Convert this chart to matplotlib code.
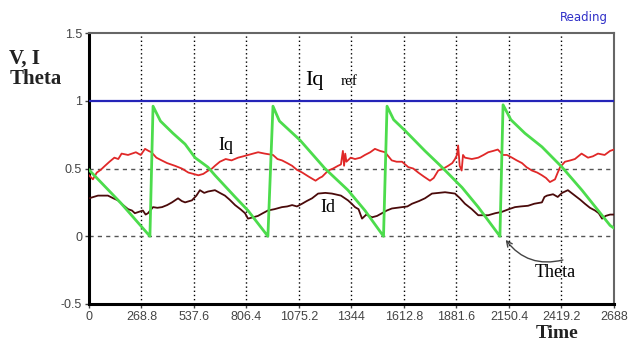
import numpy as np
import matplotlib
matplotlib.use("Agg")
import matplotlib.pyplot as plt

# Iq (red)
iq_t = [0, 20, 40, 60, 82, 105, 130, 150, 167, 200, 240, 265, 287, 305, 320, 345, 372, 400, 440,
        475, 509, 535, 560, 585, 611, 630, 645, 670, 700, 730, 763, 790, 815, 840, 866, 900, 942,
        965, 988, 1015, 1040, 1065, 1092, 1125, 1160, 1180, 1194, 1225, 1250, 1275, 1290, 1300,
        1306, 1312, 1318, 1340, 1362, 1390, 1413, 1440, 1464, 1490, 1516, 1550, 1575, 1603, 1635,
        1660, 1686, 1715, 1746, 1765, 1788, 1815, 1839, 1860, 1874, 1884, 1890, 1898, 1908, 1915,
        1925, 1960, 1993, 2020, 2044, 2070, 2093, 2120, 2140, 2166, 2190, 2217, 2240, 2268, 2295,
        2319, 2340, 2360, 2386, 2400, 2412, 2437, 2465, 2488, 2505, 2522, 2555, 2580, 2606, 2640,
        2668, 2688]
iq_v = [0.45, 0.42, 0.47, 0.49, 0.52, 0.55, 0.58, 0.57, 0.61, 0.60, 0.62, 0.60, 0.645, 0.63, 0.62,
        0.58, 0.56, 0.54, 0.52, 0.50, 0.47, 0.46, 0.45, 0.46, 0.485, 0.50, 0.52, 0.55, 0.57, 0.56,
        0.58, 0.59, 0.60, 0.61, 0.62, 0.61, 0.60, 0.57, 0.56, 0.54, 0.52, 0.49, 0.47, 0.44, 0.41,
        0.43, 0.44, 0.485, 0.50, 0.52, 0.53, 0.63, 0.52, 0.61, 0.55, 0.58, 0.57, 0.58, 0.60, 0.62,
        0.645, 0.63, 0.62, 0.56, 0.55, 0.55, 0.51, 0.50, 0.47, 0.44, 0.41, 0.43, 0.485, 0.50, 0.52,
        0.54, 0.57, 0.60, 0.67, 0.52, 0.485, 0.60, 0.58, 0.57, 0.58, 0.60, 0.62, 0.63, 0.64, 0.60,
        0.60, 0.58, 0.56, 0.54, 0.51, 0.485, 0.47, 0.45, 0.43, 0.40, 0.42, 0.47, 0.51, 0.55, 0.56,
        0.57, 0.59, 0.61, 0.58, 0.59, 0.61, 0.60, 0.63, 0.64]

# Id (dark red)
id_t = [0, 46, 97, 125, 148, 175, 200, 220, 235, 255, 276, 290, 302, 328, 350, 374, 400, 425,
        456, 475, 492, 527, 550, 568, 590, 609, 645, 670, 696, 720, 748, 775, 799, 814, 840, 865,
        890, 916, 950, 988, 1015, 1040, 1065, 1091, 1115, 1142, 1173, 1210, 1244, 1290, 1326,
        1345, 1362, 1380, 1398, 1420, 1449, 1475, 1500, 1525, 1551, 1603, 1630, 1654, 1690, 1720,
        1756, 1790, 1823, 1874, 1900, 1925, 1960, 1993, 2044, 2080, 2114, 2150, 2181, 2210, 2248,
        2280, 2319, 2332, 2345, 2376, 2400, 2422, 2452, 2470, 2488, 2515, 2539, 2565, 2591, 2610,
        2627, 2645, 2668, 2688]
id_v = [0.28, 0.30, 0.30, 0.28, 0.265, 0.23, 0.20, 0.19, 0.17, 0.18, 0.19, 0.16, 0.17, 0.215, 0.21,
        0.215, 0.23, 0.25, 0.28, 0.26, 0.25, 0.265, 0.30, 0.34, 0.32, 0.33, 0.34, 0.32, 0.30, 0.27,
        0.23, 0.20, 0.17, 0.13, 0.14, 0.15, 0.17, 0.19, 0.20, 0.215, 0.22, 0.23, 0.22, 0.24, 0.26,
        0.28, 0.315, 0.32, 0.315, 0.30, 0.265, 0.24, 0.215, 0.20, 0.13, 0.16, 0.14, 0.15, 0.17, 0.19,
        0.205, 0.215, 0.22, 0.24, 0.26, 0.28, 0.315, 0.32, 0.325, 0.315, 0.28, 0.24, 0.20, 0.155,
        0.155, 0.17, 0.18, 0.20, 0.215, 0.22, 0.225, 0.24, 0.25, 0.29, 0.30, 0.31, 0.29, 0.32,
        0.34, 0.32, 0.30, 0.27, 0.24, 0.21, 0.19, 0.17, 0.13, 0.15, 0.16, 0.16]

# Theta (green)
th_t = [0, 160, 312, 328, 366, 430, 492, 543, 609, 645, 748, 814, 916, 942, 975, 1080, 1208, 1326,
        1413, 1508, 1526, 1560, 1618, 1720, 1807, 1910, 1993, 2104, 2120, 2160, 2232, 2319, 2422,
        2524, 2668, 2688]
th_v = [0.49, 0.25, 0.0, 0.96, 0.85, 0.76, 0.68, 0.58, 0.51, 0.45, 0.29, 0.19, 0.0, 0.96, 0.85,
        0.71, 0.50, 0.34, 0.19, 0.0, 0.96, 0.86, 0.78, 0.63, 0.51, 0.36, 0.215, 0.0, 0.97, 0.86,
        0.76, 0.66, 0.51, 0.34, 0.08, 0.06]

iq_ref = 1.0
xticks = [0, 268.8, 537.6, 806.4, 1075.2, 1344, 1612.8, 1881.6, 2150.4, 2419.2, 2688]
xlabels = ['0', '268.8', '537.6', '806.4', '1075.2', '1344', '1612.8', '1881.6', '2150.4', '2419.2', '2688']
yticks = [-0.5, 0, 0.5, 1, 1.5]
ylabels = ['-0.5', '0', '0.5', '1', '1.5']

fig = plt.figure(figsize=(6.32, 3.44), dpi=100)
ax = fig.add_axes([0.1408, 0.1163, 0.8307, 0.7877])

for x in xticks[1:-1]:
    ax.axvline(x, color='black', linestyle=(0, (1, 2)), linewidth=1.0, zorder=1)
for y in [0, 0.5]:
    ax.axhline(y, color='#555555', linestyle=(0, (3, 3)), linewidth=1.0, zorder=1)

ax.axhline(iq_ref, color='#2424b8', linewidth=1.6, zorder=3)
ax.plot(id_t, id_v, color='#4a0a0a', linewidth=1.3, zorder=4)
ax.plot(iq_t, iq_v, color='#e02828', linewidth=1.3, zorder=4)
ax.plot(th_t, th_v, color='#4cdc4c', linewidth=2.0, zorder=5)

ax.set_xlim(0, 2688)
ax.set_ylim(-0.5, 1.5)
ax.set_xticks(xticks)
ax.set_xticklabels(xlabels)
ax.set_yticks(yticks)
ax.set_yticklabels(ylabels)
ax.tick_params(direction='out', length=3, width=1, labelsize=9, colors='#444444', pad=2)
for lab in ax.get_xticklabels() + ax.get_yticklabels():
    lab.set_family('Liberation Sans')

for s in ['left', 'bottom']:
    ax.spines[s].set_linewidth(2.2)
    ax.spines[s].set_color('black')
for s in ['top', 'right']:
    ax.spines[s].set_linewidth(1.5)
    ax.spines[s].set_color('#666666')

serif = 'Liberation Serif'
ax.text(1105, 1.15, 'Iq', fontsize=16, family=serif, ha='left', va='center')
ax.text(1290, 1.14, 'ref', fontsize=11, family=serif, ha='left', va='center')
ax.text(660, 0.67, 'Iq', fontsize=13, family=serif, ha='left', va='center')
ax.text(1183, 0.21, 'Id', fontsize=13, family=serif, ha='left', va='center')
ax.text(2386, -0.265, 'Theta', fontsize=13, family=serif, ha='center', va='center')
ax.annotate('', xy=(2125, -0.01), xytext=(2440, -0.17),
            arrowprops=dict(arrowstyle='->', color='#444444', lw=1.0,
                            connectionstyle='arc3,rad=-0.35'), zorder=6)

fig.text(0.015, 0.80, 'V, I\nTheta', fontsize=15, family=serif, fontweight='bold',
         ha='left', va='center', linespacing=1.05, color='#222222')
fig.text(0.882, 0.006, 'Time', fontsize=14, family=serif, fontweight='bold',
         ha='center', va='bottom', color='#222222')
fig.text(0.962, 0.948, 'Reading', fontsize=8.5, color='#3030c8', ha='right', va='center')

fig.savefig('out.png', dpi=100)
